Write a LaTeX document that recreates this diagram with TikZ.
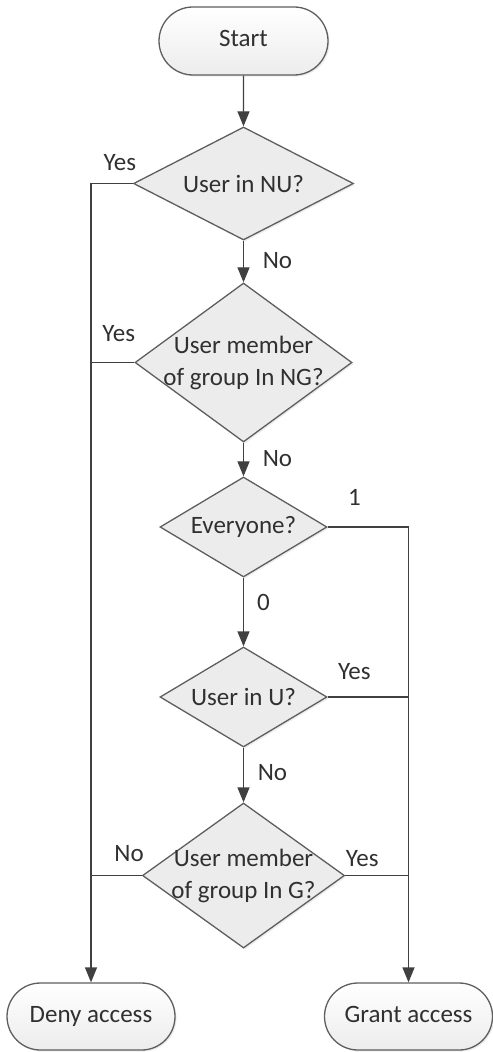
\documentclass[tikz,border=0pt]{standalone}
\usepackage{fontspec}
\setmainfont{Carlito}
\usetikzlibrary{shapes.geometric,shapes.misc,arrows.meta,shadows}
\definecolor{linegray}{HTML}{404040}
\definecolor{edgegray}{HTML}{5E5E5E}
\definecolor{boxfill}{HTML}{ECECEC}
\definecolor{inkgray}{HTML}{303030}
\tikzset{
	terminal/.style={rounded rectangle,draw=edgegray,top color=white,bottom color=boxfill,
		minimum width=84pt,minimum height=33.5pt,inner sep=0pt,text height=8.5pt,text depth=2.5pt,
		drop shadow={opacity=0.15,shadow xshift=0.8pt,shadow yshift=-0.8pt}},
	decision/.style={diamond,draw=edgegray,fill=boxfill,inner sep=0pt,
		drop shadow={opacity=0.15,shadow xshift=0.8pt,shadow yshift=-0.8pt}},
	conn/.style={draw=linegray},
	answer/.style={text=inkgray,inner sep=1pt}
}
\begin{document}
\begin{tikzpicture}[x=0.5pt,y=-0.5pt,font=\fontsize{12.5}{16}\selectfont,text=inkgray,
	>={Triangle[length=7.5pt,width=6pt]},line width=0.65pt]
	\useasboundingbox (0,0) rectangle (492,1052);
	% nodes
	\node[terminal,minimum width=84.5pt,minimum height=34pt] (start) at (243.5,41) {Start};
	\node[decision,minimum width=110pt,minimum height=56.5pt,
		label={[align=center]center:User in NU?}] (nu) at (243.5,183.5) {};
	\node[decision,minimum width=108.5pt,minimum height=79.5pt,
		label={[align=center]center:User member\\of group In NG?}] (ng) at (243.5,362.5) {};
	\node[decision,minimum width=83.5pt,minimum height=50pt,
		label={[align=center]center:Everyone?}] (every) at (243.5,527) {};
	\node[decision,minimum width=83.5pt,minimum height=50pt,
		label={[align=center]center:User in U?}] (u) at (243.5,697) {};
	\node[decision,minimum width=101pt,minimum height=72.5pt,
		label={[align=center]center:User member\\of group In G?}] (g) at (243.5,875.5) {};
	\node[terminal] (deny) at (91,1016.5) {Deny access};
	\node[terminal] (grant) at (408.5,1016.5) {Grant access};
	% connectors
	\draw[conn,->] (start) -- (nu);
	\draw[conn,->] (nu) -- node[answer,pos=0.47,xshift=17pt]{No} (ng);
	\draw[conn,->] (ng) -- node[answer,pos=0.46,xshift=17pt]{No} (every);
	\draw[conn,->] (every) -- node[answer,pos=0.36,xshift=10pt]{0} (u);
	\draw[conn,->] (u) -- node[answer,pos=0.45,xshift=14.5pt]{No} (g);
	\draw[conn,->] (nu.west) -| node[answer,pos=0.155,yshift=10.5pt]{Yes} (deny.north);
	\draw[conn] (ng.west) -- node[answer,pos=0.36,yshift=14.5pt]{Yes} (ng.west -| deny.north);
	\draw[conn] (g.west) -- node[answer,pos=0.25,yshift=11pt]{No} (g.west -| deny.north);
	\draw[conn,->] (every.east) -| node[answer,pos=0.165,yshift=15pt]{1} (grant.north);
	\draw[conn] (u.east) -- node[answer,pos=0.33,yshift=12.5pt]{Yes} (u.east -| grant.north);
	\draw[conn] (g.east) -- node[answer,pos=0.27,yshift=8.5pt]{Yes} (g.east -| grant.north);
\end{tikzpicture}
\end{document}
